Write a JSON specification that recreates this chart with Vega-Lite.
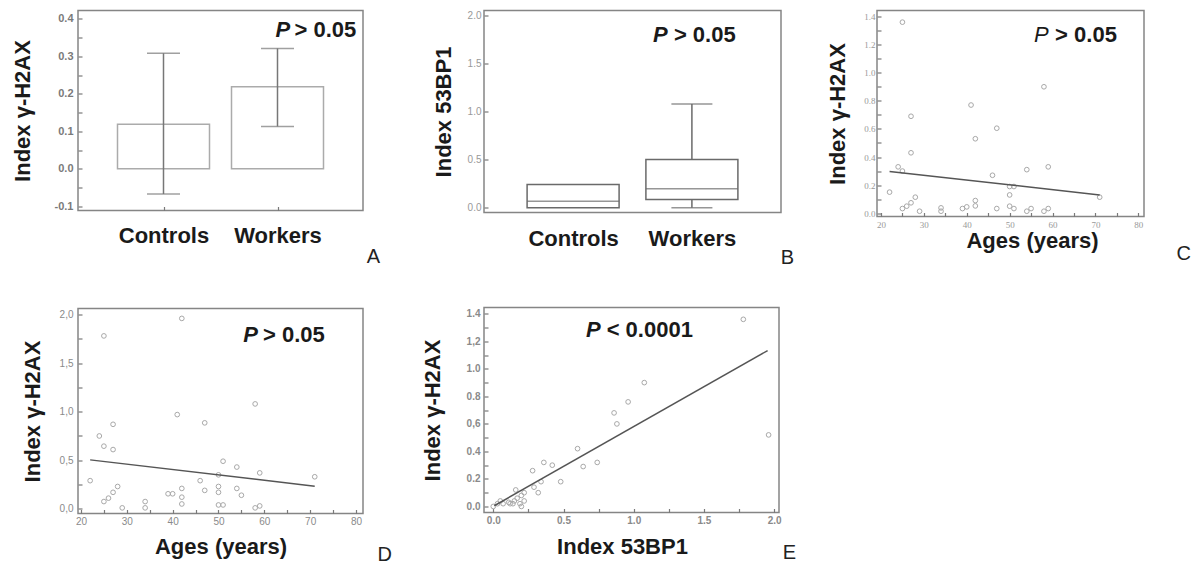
{
  "$schema": "https://vega.github.io/schema/vega-lite/v6.json",
  "background": "white",
  "padding": {"left": 10, "top": 9.5, "right": 0, "bottom": 0},
  "config": {
    "view": {"stroke": "#858585", "strokeWidth": 1.5},
    "axis": {
      "domain": false, "grid": false, "tickColor": "#7a7a7a", "tickSize": -4, "tickWidth": 1.2,
      "labelOverlap": false, "labelFlush": false, "labelBound": false,
      "labelFont": "Liberation Sans", "labelColor": "#888888", "labelFontSize": 10,
      "titleFont": "Liberation Sans", "titleFontSize": 22, "titleFontWeight": "bold", "titleColor": "#1a1a1a"
    },
    "title": {"font": "Liberation Sans", "fontSize": 20, "fontWeight": "normal", "color": "#222222", "orient": "bottom", "anchor": "end", "frame": "group"}
  },
  "datasets": {
    "A": [
      {"group": "Controls", "mean": 0.119, "lo": -0.067, "hi": 0.308},
      {"group": "Workers", "mean": 0.219, "lo": 0.113, "hi": 0.321}
    ],
    "B": [
      {"group": "Controls", "q1": 0.0, "median": 0.069, "q3": 0.243},
      {"group": "Workers", "q1": 0.087, "median": 0.198, "q3": 0.503}
    ],
    "Bw": [
      {"group": "Workers", "from": 0.087, "to": 0.0},
      {"group": "Workers", "from": 0.503, "to": 1.08}
    ],
    "C": [
      {"age": 22, "h2ax": 0.15}, {"age": 24, "h2ax": 0.33}, {"age": 25, "h2ax": 1.36}, {"age": 25, "h2ax": 0.30},
      {"age": 25, "h2ax": 0.033}, {"age": 26, "h2ax": 0.05}, {"age": 27, "h2ax": 0.69}, {"age": 27, "h2ax": 0.43},
      {"age": 27, "h2ax": 0.074}, {"age": 28, "h2ax": 0.114}, {"age": 29, "h2ax": 0.014}, {"age": 34, "h2ax": 0.038},
      {"age": 34, "h2ax": 0.014}, {"age": 39, "h2ax": 0.033}, {"age": 40, "h2ax": 0.045}, {"age": 41, "h2ax": 0.77},
      {"age": 42, "h2ax": 0.53}, {"age": 42, "h2ax": 0.09}, {"age": 42, "h2ax": 0.052}, {"age": 46, "h2ax": 0.27},
      {"age": 47, "h2ax": 0.605}, {"age": 47, "h2ax": 0.033}, {"age": 50, "h2ax": 0.19}, {"age": 50, "h2ax": 0.13},
      {"age": 50, "h2ax": 0.05}, {"age": 51, "h2ax": 0.19}, {"age": 51, "h2ax": 0.033}, {"age": 54, "h2ax": 0.31},
      {"age": 54, "h2ax": 0.014}, {"age": 55, "h2ax": 0.033}, {"age": 58, "h2ax": 0.90}, {"age": 58, "h2ax": 0.014},
      {"age": 59, "h2ax": 0.33}, {"age": 59, "h2ax": 0.033}, {"age": 71, "h2ax": 0.114}
    ],
    "Cfit": [{"age": 22, "h2ax": 0.297}, {"age": 71, "h2ax": 0.13}],
    "D": [
      {"age": 22, "h2ax": 0.29}, {"age": 24, "h2ax": 0.75}, {"age": 25, "h2ax": 0.645}, {"age": 25, "h2ax": 1.78},
      {"age": 25, "h2ax": 0.075}, {"age": 26, "h2ax": 0.11}, {"age": 27, "h2ax": 0.87}, {"age": 27, "h2ax": 0.61},
      {"age": 27, "h2ax": 0.17}, {"age": 28, "h2ax": 0.23}, {"age": 29, "h2ax": 0.01}, {"age": 34, "h2ax": 0.075},
      {"age": 34, "h2ax": 0.01}, {"age": 39, "h2ax": 0.155}, {"age": 40, "h2ax": 0.155}, {"age": 41, "h2ax": 0.97},
      {"age": 42, "h2ax": 1.96}, {"age": 42, "h2ax": 0.21}, {"age": 42, "h2ax": 0.12}, {"age": 42, "h2ax": 0.05},
      {"age": 46, "h2ax": 0.29}, {"age": 47, "h2ax": 0.885}, {"age": 47, "h2ax": 0.19}, {"age": 50, "h2ax": 0.35},
      {"age": 50, "h2ax": 0.23}, {"age": 50, "h2ax": 0.17}, {"age": 50, "h2ax": 0.04}, {"age": 51, "h2ax": 0.49},
      {"age": 51, "h2ax": 0.04}, {"age": 54, "h2ax": 0.43}, {"age": 54, "h2ax": 0.21}, {"age": 55, "h2ax": 0.14},
      {"age": 58, "h2ax": 1.08}, {"age": 58, "h2ax": 0.01}, {"age": 59, "h2ax": 0.37}, {"age": 59, "h2ax": 0.03},
      {"age": 71, "h2ax": 0.33}
    ],
    "Dfit": [{"age": 22, "h2ax": 0.504}, {"age": 71, "h2ax": 0.233}],
    "E": [
      {"bp1": 1.78, "h2ax": 1.36}, {"bp1": 1.075, "h2ax": 0.90}, {"bp1": 0.96, "h2ax": 0.76}, {"bp1": 0.86, "h2ax": 0.68},
      {"bp1": 0.88, "h2ax": 0.60}, {"bp1": 1.96, "h2ax": 0.52}, {"bp1": 0.60, "h2ax": 0.42}, {"bp1": 0.36, "h2ax": 0.32},
      {"bp1": 0.42, "h2ax": 0.30}, {"bp1": 0.28, "h2ax": 0.26}, {"bp1": 0.64, "h2ax": 0.29}, {"bp1": 0.74, "h2ax": 0.32},
      {"bp1": 0.48, "h2ax": 0.18}, {"bp1": 0.34, "h2ax": 0.18}, {"bp1": 0.29, "h2ax": 0.14}, {"bp1": 0.32, "h2ax": 0.10},
      {"bp1": 0.16, "h2ax": 0.12}, {"bp1": 0.22, "h2ax": 0.10}, {"bp1": 0.17, "h2ax": 0.06}, {"bp1": 0.20, "h2ax": 0.08},
      {"bp1": 0.22, "h2ax": 0.04}, {"bp1": 0.15, "h2ax": 0.04}, {"bp1": 0.12, "h2ax": 0.02}, {"bp1": 0.14, "h2ax": 0.02},
      {"bp1": 0.19, "h2ax": 0.02}, {"bp1": 0.20, "h2ax": 0.0}, {"bp1": 0.05, "h2ax": 0.04}, {"bp1": 0.07, "h2ax": 0.02},
      {"bp1": 0.03, "h2ax": 0.02}, {"bp1": 0.0, "h2ax": 0.0}, {"bp1": 0.11, "h2ax": 0.03}
    ],
    "Efit": [{"bp1": 0.007, "h2ax": 0.005}, {"bp1": 1.953, "h2ax": 1.133}]
  },
  "spacing": 29,
  "hconcat": [
    {
      "spacing": 27,
      "hconcat": [
        {
          "bounds": "flush",
          "spacing": 98,
          "vconcat": [
            {
              "width": 285, "height": 200,
              "title": {"text": "A", "offset": 0, "dx": 17},
              "layer": [
                {
                  "data": {"name": "A"},
                  "mark": {"type": "bar", "size": 92, "fillOpacity": 0, "stroke": "#ababab", "strokeWidth": 1.5},
                  "encoding": {
                    "x": {"field": "group", "type": "nominal", "scale": {"type": "point", "padding": 0.75, "domain": ["Controls", "Workers"]},
                      "axis": {"title": null, "labelAngle": 0, "labelFontSize": 22, "labelFontWeight": "bold", "labelColor": "#1a1a1a", "labelPadding": 19}},
                    "y": {"field": "mean", "type": "quantitative", "scale": {"domain": [-0.111, 0.422], "nice": false, "zero": false},
                      "axis": {"title": "Index γ-H2AX", "values": [-0.1, -0.05, 0, 0.05, 0.1, 0.15, 0.2, 0.25, 0.3, 0.35, 0.4], "tickCount": 100,
                        "labelExpr": "abs(round(datum.value*100)) % 10 == 0 ? replace(format(datum.value, '.1f'), '−', '-') : ''",
                        "labelFontSize": 11, "labelFontWeight": "bold", "labelColor": "#7a7a7a", "labelPadding": 9, "titlePadding": 20}},
                    "y2": {"datum": 0}
                  }
                },
                {
                  "data": {"name": "A"},
                  "mark": {"type": "rule", "color": "#777777", "strokeWidth": 1.5},
                  "encoding": {"x": {"field": "group", "type": "nominal"}, "y": {"field": "lo", "type": "quantitative"}, "y2": {"field": "hi"}}
                },
                {
                  "data": {"name": "A"},
                  "mark": {"type": "tick", "color": "#777777", "size": 33, "thickness": 1.5},
                  "encoding": {"x": {"field": "group", "type": "nominal"}, "y": {"field": "lo", "type": "quantitative"}}
                },
                {
                  "data": {"name": "A"},
                  "mark": {"type": "tick", "color": "#777777", "size": 33, "thickness": 1.5},
                  "encoding": {"x": {"field": "group", "type": "nominal"}, "y": {"field": "hi", "type": "quantitative"}}
                },
                {
                  "data": {"values": [{}]},
                  "mark": {"type": "text", "text": "P", "font": "Liberation Sans", "fontSize": 22, "fontWeight": "bold", "fontStyle": "italic", "align": "left", "baseline": "alphabetic", "dx": -2, "color": "#1a1a1a"},
                  "encoding": {"x": {"datum": "Workers", "type": "nominal"}, "y": {"datum": 0.351, "type": "quantitative"}}
                },
                {
                  "data": {"values": [{}]},
                  "mark": {"type": "text", "text": "> 0.05", "font": "Liberation Sans", "fontSize": 22, "fontWeight": "bold", "align": "left", "baseline": "alphabetic", "dx": 17, "color": "#1a1a1a"},
                  "encoding": {"x": {"datum": "Workers", "type": "nominal"}, "y": {"datum": 0.351, "type": "quantitative"}}
                }
              ]
            },
            {
              "width": 285, "height": 205,
              "title": {"text": "D", "offset": -13, "dx": 29},
              "layer": [
                {
                  "data": {"name": "D"},
                  "mark": {"type": "point", "shape": "circle", "filled": false, "size": 22, "color": "#a8a8a8", "strokeWidth": 1, "opacity": 1},
                  "encoding": {
                    "x": {"field": "age", "type": "quantitative", "scale": {"domain": [19.35, 81.53], "nice": false, "zero": false},
                      "axis": {"title": "Ages (years)", "values": [20, 25, 30, 35, 40, 45, 50, 55, 60, 65, 70, 75, 80], "tickCount": 100, "labelExpr": "datum.value % 10 == 0 ? format(datum.value, 'd') : ''",
                        "labelFontSize": 10, "labelColor": "#8a8a8a", "labelPadding": 7, "titlePadding": 10}},
                    "y": {"field": "h2ax", "type": "quantitative", "scale": {"domain": [-0.048, 2.062], "nice": false, "zero": false},
                      "axis": {"title": "Index γ-H2AX", "values": [0, 0.25, 0.5, 0.75, 1.0, 1.25, 1.5, 1.75, 2.0], "tickCount": 100,
                        "labelExpr": "round(datum.value*100) % 50 == 0 ? replace(format(datum.value, '.1f'), '.', ',') : ''",
                        "labelFontSize": 10, "labelColor": "#8a8a8a", "labelPadding": 9, "titlePadding": 15}}
                  }
                },
                {
                  "data": {"name": "Dfit"},
                  "mark": {"type": "line", "color": "#555555", "strokeWidth": 1.5},
                  "encoding": {"x": {"field": "age", "type": "quantitative"}, "y": {"field": "h2ax", "type": "quantitative"}}
                },
                {
                  "data": {"values": [{}]},
                  "mark": {"type": "text", "text": "P", "font": "Liberation Sans", "fontSize": 22, "fontWeight": "bold", "fontStyle": "italic", "align": "left", "baseline": "alphabetic", "color": "#1a1a1a"},
                  "encoding": {"x": {"datum": 55.4, "type": "quantitative"}, "y": {"datum": 1.72, "type": "quantitative"}}
                },
                {
                  "data": {"values": [{}]},
                  "mark": {"type": "text", "text": "> 0.05", "font": "Liberation Sans", "fontSize": 22, "fontWeight": "bold", "align": "left", "baseline": "alphabetic", "color": "#1a1a1a"},
                  "encoding": {"x": {"datum": 59.7, "type": "quantitative"}, "y": {"datum": 1.72, "type": "quantitative"}}
                }
              ]
            }
          ]
        },
        {
          "bounds": "flush",
          "spacing": 95,
          "vconcat": [
            {
              "width": 297, "height": 202,
              "title": {"text": "B", "offset": -2, "dx": 13},
              "layer": [
                {
                  "data": {"name": "B"},
                  "mark": {"type": "bar", "size": 92, "fillOpacity": 0, "stroke": "#6a6a6a", "strokeWidth": 1.5},
                  "encoding": {
                    "x": {"field": "group", "type": "nominal", "scale": {"type": "point", "padding": 0.75, "domain": ["Controls", "Workers"]},
                      "axis": {"title": null, "ticks": false, "labelAngle": 0, "labelFontSize": 22, "labelFontWeight": "bold", "labelColor": "#1a1a1a", "labelPadding": 16}},
                    "y": {"field": "q1", "type": "quantitative", "scale": {"domain": [-0.049, 2.052], "nice": false, "zero": false},
                      "axis": {"title": "Index 53BP1", "values": [0, 0.5, 1, 1.5, 2], "tickCount": 100, "labelExpr": "format(datum.value, '.1f')", "labelFontSize": 10, "labelColor": "#999999", "labelPadding": 7, "titlePadding": 12}},
                    "y2": {"field": "q3"}
                  }
                },
                {
                  "data": {"name": "B"},
                  "mark": {"type": "tick", "color": "#6a6a6a", "size": 92, "thickness": 1.5},
                  "encoding": {"x": {"field": "group", "type": "nominal"}, "y": {"field": "median", "type": "quantitative"}}
                },
                {
                  "data": {"name": "Bw"},
                  "mark": {"type": "rule", "color": "#6a6a6a", "strokeWidth": 1.5},
                  "encoding": {"x": {"field": "group", "type": "nominal"}, "y": {"field": "from", "type": "quantitative"}, "y2": {"field": "to"}}
                },
                {
                  "data": {"name": "Bw"},
                  "mark": {"type": "tick", "color": "#6a6a6a", "size": 41, "thickness": 1.5},
                  "encoding": {"x": {"field": "group", "type": "nominal"}, "y": {"field": "to", "type": "quantitative"}}
                },
                {
                  "data": {"values": [{}]},
                  "mark": {"type": "text", "text": "P", "font": "Liberation Sans", "fontSize": 22, "fontWeight": "bold", "fontStyle": "italic", "align": "left", "baseline": "alphabetic", "dx": -39, "color": "#1a1a1a"},
                  "encoding": {"x": {"datum": "Workers", "type": "nominal"}, "y": {"datum": 1.72, "type": "quantitative"}}
                },
                {
                  "data": {"values": [{}]},
                  "mark": {"type": "text", "text": "> 0.05", "font": "Liberation Sans", "fontSize": 22, "fontWeight": "bold", "align": "left", "baseline": "alphabetic", "dx": -18, "color": "#1a1a1a"},
                  "encoding": {"x": {"datum": "Workers", "type": "nominal"}, "y": {"datum": 1.72, "type": "quantitative"}}
                }
              ]
            },
            {
              "width": 295, "height": 205,
              "title": {"text": "E", "offset": -15, "dx": 17},
              "layer": [
                {
                  "data": {"name": "E"},
                  "mark": {"type": "point", "shape": "circle", "filled": false, "size": 22, "color": "#a8a8a8", "strokeWidth": 1, "opacity": 1},
                  "encoding": {
                    "x": {"field": "bp1", "type": "quantitative", "scale": {"domain": [-0.066, 2.034], "nice": false, "zero": false},
                      "axis": {"title": "Index  53BP1", "titleX": 138, "values": [0, 0.25, 0.5, 0.75, 1.0, 1.25, 1.5, 1.75, 2.0], "tickCount": 100,
                        "labelExpr": "round(datum.value*100) % 50 == 0 ? format(datum.value, '.1f') : ''",
                        "labelFontSize": 10, "labelFontWeight": "bold", "labelColor": "#8a8a8a", "labelPadding": 7, "titlePadding": 11}},
                    "y": {"field": "h2ax", "type": "quantitative", "scale": {"domain": [-0.044, 1.446], "nice": false, "zero": false},
                      "axis": {"title": "Index γ-H2AX", "values": [0, 0.1, 0.2, 0.3, 0.4, 0.5, 0.6, 0.7, 0.8, 0.9, 1.0, 1.1, 1.2, 1.3, 1.4], "tickCount": 100,
                        "labelExpr": "round(datum.value*10) % 2 == 0 ? ((round(datum.value*10) == 6 || round(datum.value*10) == 12) ? replace(format(datum.value, '.1f'), '.', ',') : format(datum.value, '.1f')) : ''",
                        "labelFontSize": 10, "labelFontWeight": "bold", "labelColor": "#8a8a8a", "labelPadding": 8, "titlePadding": 22}}
                  }
                },
                {
                  "data": {"name": "Efit"},
                  "mark": {"type": "line", "color": "#555555", "strokeWidth": 1.5},
                  "encoding": {"x": {"field": "bp1", "type": "quantitative"}, "y": {"field": "h2ax", "type": "quantitative"}}
                },
                {
                  "data": {"values": [{}]},
                  "mark": {"type": "text", "text": "P", "font": "Liberation Sans", "fontSize": 22, "fontWeight": "bold", "fontStyle": "italic", "align": "left", "baseline": "alphabetic", "color": "#1a1a1a"},
                  "encoding": {"x": {"datum": 0.66, "type": "quantitative"}, "y": {"datum": 1.23, "type": "quantitative"}}
                },
                {
                  "data": {"values": [{}]},
                  "mark": {"type": "text", "text": "< 0.0001", "font": "Liberation Sans", "fontSize": 22, "fontWeight": "bold", "align": "left", "baseline": "alphabetic", "color": "#1a1a1a"},
                  "encoding": {"x": {"datum": 0.807, "type": "quantitative"}, "y": {"datum": 1.23, "type": "quantitative"}}
                }
              ]
            }
          ]
        }
      ]
    },
    {
      "width": 267, "height": 206,
      "title": {"text": "C", "offset": -8, "dx": 47},
      "layer": [
        {
          "data": {"name": "C"},
          "mark": {"type": "point", "shape": "circle", "filled": false, "size": 22, "color": "#a8a8a8", "strokeWidth": 1, "opacity": 1},
          "encoding": {
            "x": {"field": "age", "type": "quantitative", "scale": {"domain": [19.07, 81.33], "nice": false, "zero": false},
              "axis": {"title": "Ages (years)", "titleX": 155, "values": [20, 25, 30, 35, 40, 45, 50, 55, 60, 65, 70, 75, 80], "tickCount": 100, "labelExpr": "datum.value % 10 == 0 ? format(datum.value, 'd') : ''",
                "labelFont": "Liberation Serif", "labelFontSize": 9, "labelColor": "#999999", "labelPadding": 8, "titlePadding": 1}},
            "y": {"field": "h2ax", "type": "quantitative", "scale": {"domain": [-0.0235, 1.443], "nice": false, "zero": false},
              "axis": {"title": "Index γ-H2AX", "values": [0, 0.1, 0.2, 0.3, 0.4, 0.5, 0.6, 0.7, 0.8, 0.9, 1.0, 1.1, 1.2, 1.3, 1.4], "tickCount": 100,
                "labelExpr": "round(datum.value*10) % 2 == 0 ? format(datum.value, '.1f') : ''",
                "labelFont": "Liberation Serif", "labelFontSize": 9, "labelColor": "#999999", "labelPadding": 6, "titlePadding": 14}}
          }
        },
        {
          "data": {"name": "Cfit"},
          "mark": {"type": "line", "color": "#555555", "strokeWidth": 1.5},
          "encoding": {"x": {"field": "age", "type": "quantitative"}, "y": {"field": "h2ax", "type": "quantitative"}}
        },
        {
          "data": {"values": [{}]},
          "mark": {"type": "text", "text": "P", "font": "Liberation Sans", "fontSize": 22, "fontStyle": "italic", "align": "left", "baseline": "alphabetic", "color": "#1a1a1a"},
          "encoding": {"x": {"datum": 55.7, "type": "quantitative"}, "y": {"datum": 1.217, "type": "quantitative"}}
        },
        {
          "data": {"values": [{}]},
          "mark": {"type": "text", "text": "> 0.05", "font": "Liberation Sans", "fontSize": 22, "fontWeight": "bold", "align": "left", "baseline": "alphabetic", "color": "#1a1a1a"},
          "encoding": {"x": {"datum": 60.6, "type": "quantitative"}, "y": {"datum": 1.217, "type": "quantitative"}}
        }
      ]
    }
  ]
}
